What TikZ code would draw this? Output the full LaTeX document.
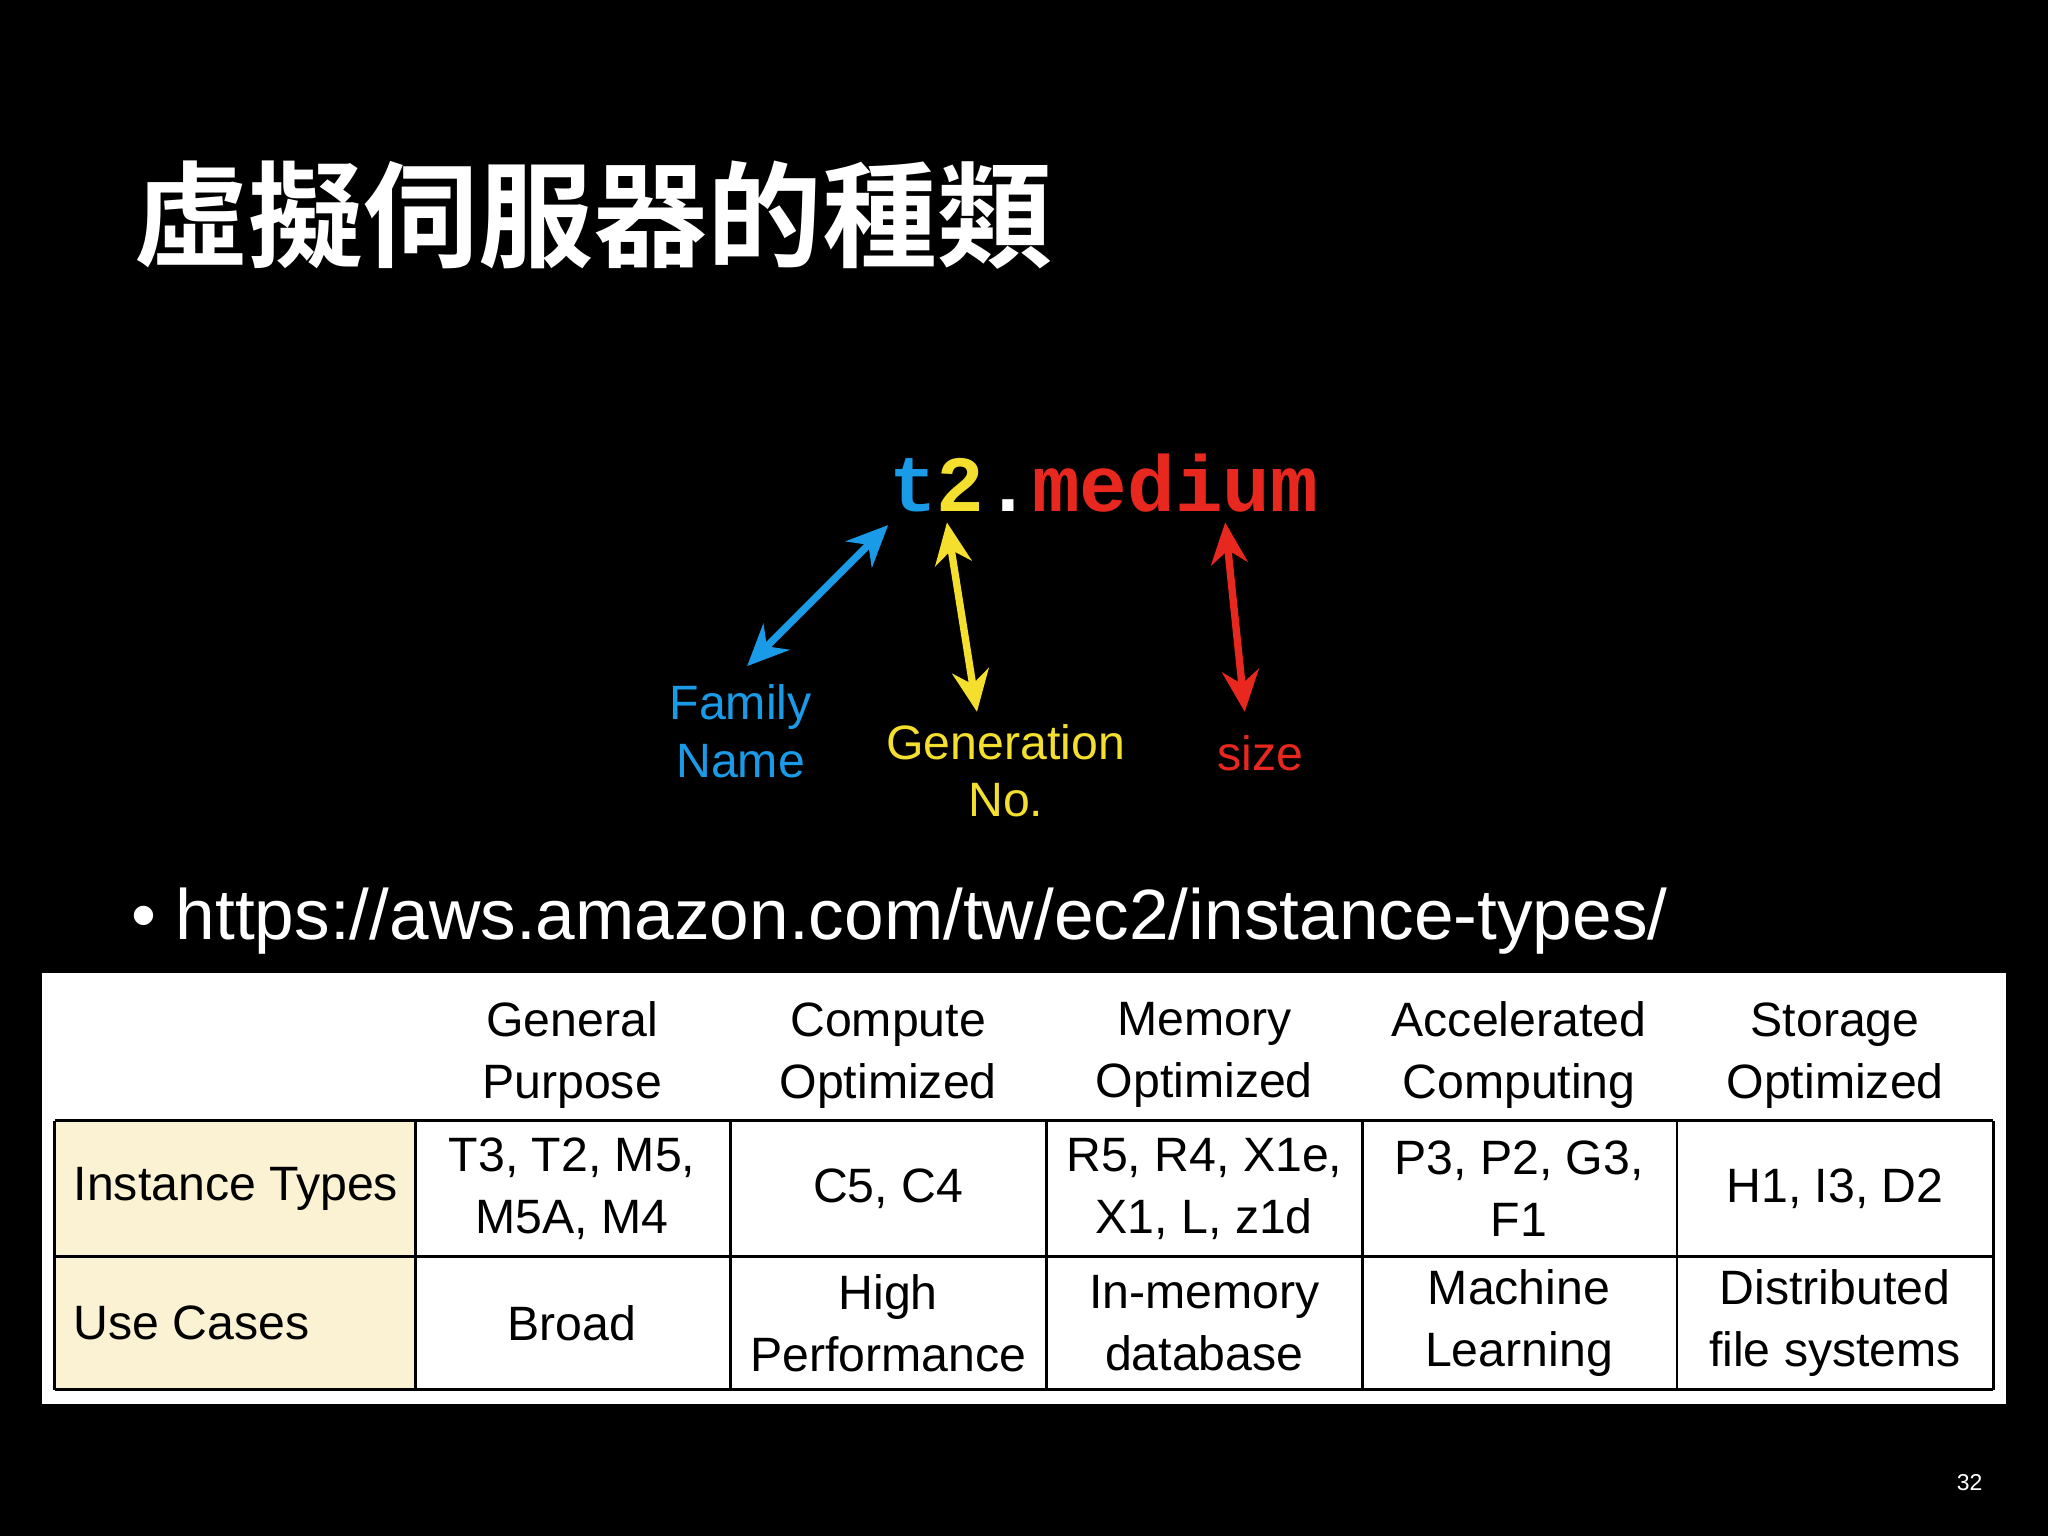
\documentclass[tikz,border=0pt]{standalone}
\usepackage{fontspec}
\setmainfont{Liberation Sans}
\newfontfamily\cjk{Noto Sans CJK TC}[BoldFont={Noto Sans CJK TC Bold}]
\newfontfamily\mono{Liberation Mono}
\usetikzlibrary{arrows.meta}
\definecolor{cb}{HTML}{1A9BE8}
\definecolor{cy}{HTML}{F5DF2E}
\definecolor{cr}{HTML}{E8281E}
\definecolor{cell}{HTML}{FBF2D3}
\begin{document}
\begin{tikzpicture}[x=0.01cm,y=-0.01cm,
  arr/.style={line width=1.6pt,{Stealth[length=9pt,width=8pt]}-{Stealth[length=9pt,width=8pt]}},
  lab/.style={font=\fontsize{10.5}{12.5}\selectfont,align=center},
  tc/.style={font=\fontsize{10.5}{13.5}\selectfont,align=center,text=black},
  grid/.style={draw=black,line width=0.6pt}]
\fill[black] (0,0) rectangle (1568,1176);
\useasboundingbox (0,0) rectangle (1568,1176);
\node[anchor=west,text=white,font=\cjk\bfseries\fontsize{25}{30}\selectfont] (title) at (90,165) {虛擬伺服器的種類};
\node[anchor=west,font=\mono\bfseries\fontsize{17.3}{20}\selectfont,inner sep=0] (name) at (680,370)
  {\textcolor{cb}{t}\textcolor{cy}{2}\textcolor{white}{.}\textcolor{cr}{medium}};
\coordinate (tb) at (680,402); \coordinate (ty) at (725,400); \coordinate (tr) at (938,400);
\coordinate (eb) at (572,510); \coordinate (ey) at (748,545); \coordinate (er) at (953,545);
\draw[arr,cb] (tb) -- (eb);
\draw[arr,cy] (ty) -- (ey);
\draw[arr,cr] (tr) -- (er);
\node[lab,text=cb] (fam) at (567,560) {Family\\Name};
\node[lab,text=cy] (gen) at (770,590) {Generation\\No.};
\node[lab,text=cr] (size) at (965,577) {size};
\node[anchor=west,text=white,font=\fontsize{15.5}{18}\selectfont] (url) at (88,705) {\textbullet\ https://aws.amazon.com/tw/ec2/instance-types/};
\fill[white] (32,745) rectangle (1536,1075);
\fill[cell] (42,858) rectangle (318,1064);
\foreach \x in {42,318,559,801,1043,1284,1526} \draw[grid] (\x,858) -- (\x,1064);
\foreach \y in {858,962,1064} \draw[grid] (42,\y) -- (1526,\y);
\node[tc] (h1) at (438,808) {General\\Purpose};
\node[tc] (h2) at (680,808) {Compute\\Optimized};
\node[tc] (h3) at (922,808) {Memory\\Optimized};
\node[tc] (h4) at (1163,808) {Accelerated\\Computing};
\node[tc] (h5) at (1405,808) {Storage\\Optimized};
\node[tc,anchor=west] (r1) at (44,910) {Instance Types};
\node[tc,anchor=west] (r2) at (44,1013) {Use Cases};
\node[tc] (a1) at (438,910) {T3, T2, M5,\\M5A, M4};
\node[tc] (a2) at (680,910) {C5, C4};
\node[tc] (a3) at (922,910) {R5, R4, X1e,\\X1, L, z1d};
\node[tc] (a4) at (1163,910) {P3, P2, G3,\\F1};
\node[tc] (a5) at (1405,910) {H1, I3, D2};
\node[tc] (b1) at (438,1013) {Broad};
\node[tc] (b2) at (680,1013) {High\\Performance};
\node[tc] (b3) at (922,1013) {In-memory\\database};
\node[tc] (b4) at (1163,1013) {Machine\\Learning};
\node[tc] (b5) at (1405,1013) {Distributed\\file systems};
\node[text=white,font=\fontsize{5}{6}\selectfont] (pg) at (1508,1135) {32};
\end{tikzpicture}
\end{document}
